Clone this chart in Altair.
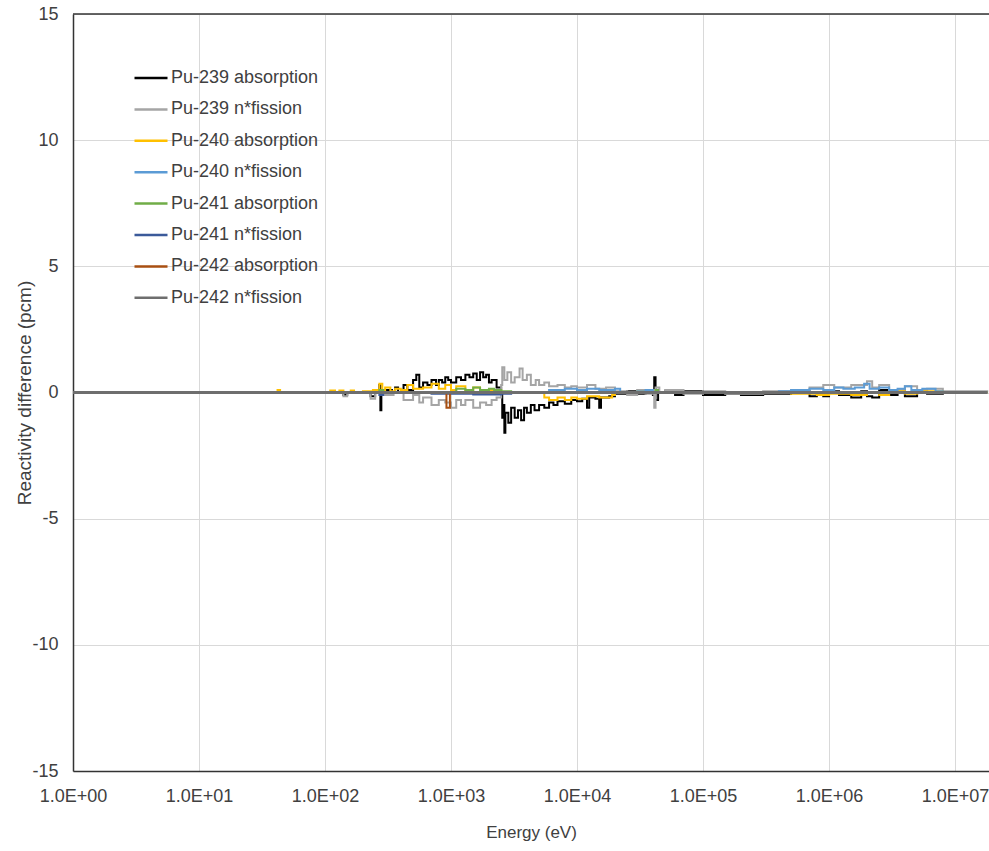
import altair as alt
import pandas as pd

SERIES = ["Pu-239 absorption", "Pu-239 n*fission", "Pu-240 absorption", "Pu-240 n*fission",
          "Pu-241 absorption", "Pu-241 n*fission", "Pu-242 absorption", "Pu-242 n*fission"]
COLORS = ["#000000", "#a5a5a5", "#ffc000", "#5b9bd5", "#70ad47", "#3b5a9a", "#a84f12", "#6e6e6e"]

X_TICKS = [1, 10, 100, 1e3, 1e4, 1e5, 1e6, 1e7]
Y_TICKS = [-15, -10, -5, 0, 5, 10, 15]

pu239_abs_E = [1, 100, 130, 140, 150, 200, 230, 250, 270, 275, 280, 300, 340, 360, 380, 420, 450, 500, 530,
               560, 600, 650, 700, 760, 800, 850, 900, 950, 1000, 1100, 1200, 1300, 1400, 1500, 1600, 1700,
               1800, 1900, 2000, 2100, 2300, 2500, 2550, 2600, 2650, 2700, 2850, 3000, 3200, 3400, 3600,
               3800, 4000, 4300, 4600, 5000, 5500, 6000, 6500, 7000, 8000, 9000, 10000, 11000, 12000,
               12500, 14000, 15000, 15500, 18000, 20000, 25000, 30000, 35000, 40000, 41000, 42000, 44000,
               50000, 60000, 70000, 100000, 150000, 200000, 300000, 500000, 700000, 800000, 900000,
               1000000, 1200000, 1500000, 1800000, 2000000, 2200000, 2500000, 3000000, 3500000, 4000000,
               5000000, 6000000, 8000000, 18000000]
pu239_abs_V = [0, 0, 0, -0.1, 0, 0, -0.15, 0, 0.3, -0.7, 0, 0.1, 0, 0.2, 0, 0.3, 0.1, 0.5, 0.7,
               0.2, 0.4, 0.3, 0.5, 0.3, 0.5, 0.4, 0.6, 0.5, 0.4, 0.6, 0.5, 0.7, 0.6, 0.75, 0.5, 0.8,
               0.6, 0.7, 0.4, 0.5, 0.2, 0.0, -1.0, -0.5, -1.6, -0.8, -1.2, -0.6, -1.0, -0.7, -1.1,
               -0.6, -0.8, -0.5, -0.7, -0.5, -0.6, -0.4, -0.5, -0.35, -0.45, -0.3, -0.35, -0.25, -0.6,
               -0.2, -0.25, -0.6, -0.2, -0.15, -0.05, 0.05, -0.05, 0.1, -0.1, 0.6, -0.3, 0,
               0.05, -0.1, 0.05, -0.1, -0.05, -0.1, -0.05, 0.05, -0.15, -0.1, -0.15,
               0.05, -0.1, -0.2, 0.05, -0.15, -0.2, 0.1, -0.1, 0.1, -0.15,
               0.05, -0.05, 0, 0]

pu239_fis_E = [1, 100, 140, 150, 230, 250, 300, 350, 420, 500, 560, 600, 700, 800, 900, 1000, 1100, 1200,
               1300, 1500, 1700, 1900, 2100, 2300, 2500, 2550, 2650, 2800, 3000, 3200, 3500, 3700, 4000,
               4300, 4700, 5000, 5500, 6000, 7000, 8000, 9000, 10000, 12000, 14000, 17000, 20000, 25000,
               30000, 35000, 40000, 41000, 42000, 45000, 50000, 70000, 100000, 150000, 300000, 500000,
               700000, 900000, 1100000, 1500000, 2000000, 2200000, 2500000, 3000000, 4000000, 5000000,
               6000000, 8000000, 18000000]
pu239_fis_V = [0, 0, -0.15, 0, -0.25, 0, -0.1, 0, -0.3, -0.1, -0.4, -0.2, -0.5, -0.3, -0.4, -0.6, -0.3, -0.5,
               -0.3, -0.6, -0.4, -0.5, -0.3, -0.2, 0.3, 1.0, 0.5, 0.8, 0.4, 0.6, 0.95, 0.5, 0.7,
               0.3, 0.5, 0.3, 0.4, 0.25, 0.3, 0.2, 0.25, 0.2, 0.3, 0.15, 0.2, 0.05, -0.1,
               0.1, -0.05, 0.1, -0.6, 0.2, 0, 0.1, -0.05, 0.05, -0.05, 0.05, 0.1,
               0.2, 0.3, 0.2, 0.3, 0.45, 0.2, 0.3, 0.1, 0.25, 0.1,
               0.15, 0.05, 0]

pu240_abs_E = [1, 40, 42, 44, 100, 110, 120, 130, 140, 160, 170, 200, 240, 260, 270, 285, 300, 330, 360,
               400, 450, 500, 600, 700, 800, 900, 1000, 1100, 1300, 1500, 1700, 2000, 2500, 5000, 5500,
               6000, 7000, 8000, 9000, 10000, 12000, 15000, 19000, 20000, 30000, 40000, 300000, 500000,
               800000, 1000000, 1500000, 2000000, 2500000, 3000000, 4000000, 5000000, 8000000, 18000000]
pu240_abs_V = [0, 0, 0.1, 0, 0, 0.08, 0, 0.08, 0, 0.08, 0, 0.05, 0.1, 0, 0.35, 0.1, 0.2, 0.05, 0.15,
               0.1, 0.3, 0.15, 0.2, 0.35, 0.15, 0.3, 0.1, 0.25, 0.1, 0.2, 0.05, 0.1, 0, 0, -0.2,
               -0.3, -0.2, -0.3, -0.2, -0.25, -0.15, -0.2, -0.1, 0, 0.05, 0, 0, -0.05,
               -0.1, -0.05, -0.1, 0, -0.1, 0.05, -0.05, 0.05, 0, 0]

pu240_fis_E = [1, 5000, 6000, 8000, 10000, 12000, 15000, 20000, 22000, 30000, 35000, 40000, 300000, 400000,
               500000, 700000, 900000, 1100000, 1300000, 1600000, 1900000, 2100000, 2500000, 3000000,
               3500000, 4000000, 4500000, 5500000, 7000000, 8000000, 18000000]
pu240_fis_V = [0, 0, 0.1, 0.15, 0.1, 0.15, 0.1, 0.15, 0, 0.05, 0.1, 0, 0, 0.05,
               0.1, 0.15, 0.1, 0.2, 0.15, 0.2, 0.35, 0.15, 0.2, 0.1,
               0.15, 0.25, 0.1, 0.15, 0.05, 0, 0]

pu241_abs_E = [1, 250, 270, 290, 900, 1100, 1300, 1500, 1700, 2000, 2200, 2500, 3000, 40000, 42000, 44000, 18000000]
pu241_abs_V = [0, 0, 0.1, 0, 0, 0.15, 0.1, 0.2, 0.1, 0.15, 0.1, 0.05, 0, 0, 0.1, 0, 0]

pu241_fis_E = [1, 250, 270, 290, 600, 700, 1500, 2500, 3000, 18000000]
pu241_fis_V = [0, 0, -0.1, 0, 0, -0.05, -0.08, -0.05, 0, 0]

pu242_abs_E = [1, 900, 920, 960, 980, 18000000]
pu242_abs_V = [0, 0, -0.6, -0.6, 0, 0]

pu242_fis_E = [1, 18000000]
pu242_fis_V = [0, 0]

ENERGIES = [pu239_abs_E, pu239_fis_E, pu240_abs_E, pu240_fis_E, pu241_abs_E, pu241_fis_E, pu242_abs_E, pu242_fis_E]
VALUES = [pu239_abs_V, pu239_fis_V, pu240_abs_V, pu240_fis_V, pu241_abs_V, pu241_fis_V, pu242_abs_V, pu242_fis_V]

rows = []
for name, es, vs in zip(SERIES, ENERGIES, VALUES):
    for i, (e, v) in enumerate(zip(es, vs)):
        rows.append({"series": name, "energy": e, "value": v, "i": i})
df = pd.DataFrame(rows)

FONT = "Liberation Sans"
TXT = "#404040"
XMAX = 1.86e7

xscale = alt.Scale(type="log", domain=[1, XMAX], nice=False)
yscale = alt.Scale(domain=[-15, 15], nice=False)

x = alt.X("energy:Q", scale=xscale,
          axis=alt.Axis(values=X_TICKS, title="Energy (eV)", grid=True, gridColor="#d9d9d9",
                        labelExpr="'1.0E+' + format(round(log(datum.value)/LN10), '02d')",
                        ticks=False, labelPadding=16, titlePadding=19, domainColor="#333333",
                        domainWidth=1.5, labelFlush=False, labelFontSize=18, titleFontSize=17))
y = alt.Y("value:Q", scale=yscale,
          axis=alt.Axis(values=Y_TICKS, title="Reactivity difference (pcm)", grid=True, gridColor="#d9d9d9",
                        labelExpr="(datum.value < 0 ? '-' : '') + abs(datum.value)",
                        ticks=False, labelPadding=15, domainColor="#333333",
                        domainWidth=1.5, labelFontSize=18, titleFontSize=19,
                        titleX=-43, titleBaseline="alphabetic"))

lines = alt.Chart(df).mark_line(clip=True, interpolate="step-after", strokeWidth=2).encode(
    x=x, y=y,
    order="i:Q",
    color=alt.Color("series:N", scale=alt.Scale(domain=SERIES, range=COLORS),
                    legend=alt.Legend(title=None, orient="none", legendX=60, legendY=46,
                                      symbolType="stroke", symbolSize=1089, symbolStrokeWidth=2.5,
                                      labelFontSize=18, labelFont=FONT, labelColor=TXT,
                                      labelOffset=2, rowPadding=4.4)),
)

zero_series = alt.Chart(df).transform_filter(
    alt.datum.series == SERIES[-1]
).mark_line(clip=True, color=COLORS[-1], strokeWidth=3).encode(
    x=alt.X("energy:Q", scale=xscale), y=alt.Y("value:Q", scale=yscale), order="i:Q"
)

top = alt.Chart(pd.DataFrame({"v": [15]})).mark_rule(color="#333333", strokeWidth=1.5).encode(
    y=alt.Y("v:Q", scale=yscale)
)

chart = alt.layer(lines, zero_series, top).properties(
    width=916, height=757,
    autosize=alt.AutoSizeParams(type="none"),
    padding={"left": 73, "top": 14, "right": 0, "bottom": 70},
).configure_view(stroke=None).configure_axis(
    labelFont=FONT, titleFont=FONT, labelColor=TXT, titleColor=TXT, titleFontWeight="normal"
)

chart.save("out.html", embed_options={"renderer": "svg", "actions": False})
